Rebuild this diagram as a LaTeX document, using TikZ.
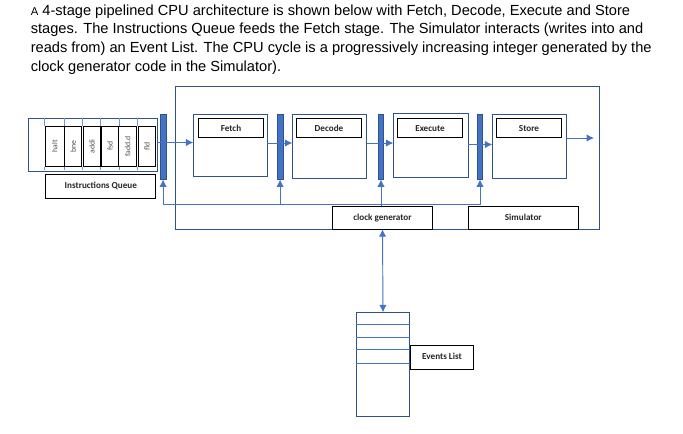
\documentclass[tikz,border=0pt]{standalone}
\usepackage{fontspec}
\usetikzlibrary{arrows.meta}
\setmainfont{Liberation Sans}
\newfontfamily\boxfont{Carlito}
\definecolor{darkblue}{HTML}{2F528F}
\definecolor{midblue}{HTML}{4472C4}
\tikzset{
    sized/.style 2 args={minimum width=#1*.75pt, minimum height=#2*.75pt, inner sep=0pt, outer sep=0pt},
    frame/.style={draw=darkblue, line width=.7pt},
    latch/.style={draw=darkblue, fill=midblue, line width=.5pt},
    tag/.style={draw=black, line width=.7pt, text height=5pt, text depth=1.5pt, font=\boxfont\bfseries\fontsize{6.85}{7}\selectfont, text=black!85},
    stagetag/.style={tag, text height=6pt, text depth=.8pt},
    cell/.style={draw=black, line width=.7pt, font=\boxfont\fontsize{5.8}{6}\selectfont, text=black!70},
    wire/.style={midblue, line width=.7pt},
    tick/.style={midblue!75, line width=.7pt},
}
\begin{document}
\begin{tikzpicture}[>={Latex[length=5.5pt,width=5.5pt]}, x=.75pt, y=-.75pt]
\useasboundingbox (0,0) rectangle (683,433);
\node[anchor=north west, inner sep=0pt, align=left, font=\fontsize{10.97}{13.95}\selectfont] (intro) at (30.5,4.5)
    {{\fontsize{8.5}{13.95}\selectfont A} 4-stage pipelined CPU architecture is shown below with Fetch, Decode, Execute and Store\\
    stages. The Instructions Queue feeds the Fetch stage. The Simulator interacts (writes into and\\
    reads from) an Event List. The CPU cycle is a progressively increasing integer generated by the\\
    clock generator code in the Simulator).};

\node[frame, sized={424}{142.5}] (cpu) at (387.5,158.2) {};

% queue
\node[frame, sized={128.5}{53}] (queue) at (93.2,144.5) {};
\foreach \name/\x/\w/\txt in {halt/54.7/19.4/halt, bne/73.1/17.4/bne, addi/92/17.4/addi, fsd/110/17.4/fsd, fadd/127.7/18/fadd.d, fld/147/17.4/fld}
{
    \node[cell, sized={\w}{40}] (\name) at (\x,146.3) {\rotatebox{90}{\txt}};
}
\foreach \x in {44.3,64.7,82.7,100.3,119.3,137.3}
{
    \draw[tick] (\x,118) -- (\x,126);
    \draw[tick] (\x,166.5) -- (\x,170);
}
\node[tag, sized={110}{24}] (iq) at (100.8,186) {Instructions Queue};

% stages and the latches in front of them
\foreach \name/\x/\w/\y/\h/\txt/\tx/\ty in {fetch/230.3/74/145.6/62.7/Fetch/231/127.8, decode/329.5/74.4/146.3/64/Decode/329/128.2, execute/430.8/75/145.5/63.6/Execute/430/127.8, store/529.5/74.4/146.3/64/Store/529/127.8}
{
    \node[frame, sized={\w}{\h}] (\name) at (\x,\y) {};
    \node[stagetag, sized={65.4}{19}] (\name tag) at (\tx,\ty) {\txt};
}
\foreach \name/\x in {latcha/163.1, latchb/280.1, latchc/381, latchd/480}
{
    \node[latch, sized={5.6}{65.5}] (\name) at (\x,146.7) {};
}

\node[tag, sized={100.4}{23}] (clock) at (382.5,217.8) {clock generator};
\node[tag, sized={110}{23}] (simulator) at (523.3,217.8) {Simulator};

% events
\node[frame, sized={53.4}{104}] (events) at (383,364.3) {};
\foreach \y in {324.3,337.3,349.3,363.3}
{
    \draw[wire] (events.west |- 0,\y) -- (events.east |- 0,\y);
}
\node[tag, sized={63.4}{24}] (eventstag) at (442,357.3) {Events List};

% connectors
\coordinate (fetchin) at (193.3,142.5);
\coordinate (decodein) at (292.3,143);
\coordinate (executein) at (393.3,143);
\coordinate (storein) at (492.3,144.5);
\coordinate (out) at (594,138);
\coordinate (bus) at (clock.north -| latchc);
\draw[wire, ->] (queue.east |- fetchin) -- (fetchin);
\draw[wire, ->] (fetch.east |- decodein) -- (decodein);
\draw[wire, ->] (decode.east |- executein) -- (executein);
\draw[wire, ->] (execute.east |- storein) -- (storein);
\draw[wire, ->] (store.east |- out) -- (out);
\draw[wire, ->] (bus) -- (latchc.south);
\draw[wire, ->] ([yshift=1.5pt]bus) -| (latcha.south);
\draw[wire, ->] ([yshift=1.5pt]bus -| latchb) -- (latchb.south);
\draw[wire, ->] ([yshift=1.5pt]bus) -| (latchd.south);
\draw[wire, <->] (clock.south) -- (events.north);
\end{tikzpicture}
\end{document}
